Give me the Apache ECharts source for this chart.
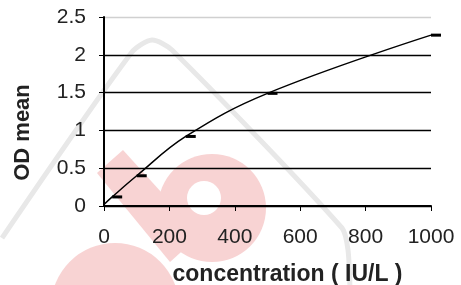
<!DOCTYPE html>
<html><head><meta charset="utf-8">
<script src="https://cdn.jsdelivr.net/npm/echarts@6/dist/echarts.min.js"></script>
<style>html,body{margin:0;padding:0;background:#fff}#c{width:461px;height:285px}</style>
</head><body><div id="c"></div>
<script>
var concentration = [0, 25, 100, 250, 500, 1000];
var odMean = [0.02, 0.12, 0.40, 0.92, 1.49, 2.26];
var xTicks = [0, 200, 400, 600, 800, 1000];
var yTicks = [0, 0.5, 1, 1.5, 2, 2.5];

var data = concentration.map(function (c, i) {
  var item = { value: [c, odMean[i]] };
  if (i === 0) item.symbol = 'none';
  return item;
});

var pink = '#f8d3d3';
var chart = echarts.init(document.getElementById('c'));
chart.setOption({
  animation: false,
  backgroundColor: '#fff',
  textStyle: { fontFamily: 'Liberation Sans, Arial, sans-serif' },
  graphic: [
    { type: 'circle', z: -10, shape: { cx: 212, cy: 208, r: 54 }, style: { fill: pink }, silent: true },
    { type: 'polygon', z: -10, shape: { points: [[97, 173], [123, 150], [200, 235], [170, 262]] }, style: { fill: pink }, silent: true },
    { type: 'circle', z: -9, shape: { cx: 204, cy: 198, r: 17 }, style: { fill: '#fff' }, silent: true },
    { type: 'circle', z: -10, shape: { cx: 115, cy: 307, r: 64 }, style: { fill: pink }, silent: true },
    { type: 'polyline', z: -8, shape: { points: [[2, 238], [132, 52], [152, 40], [172, 50], [342, 228], [348, 250], [350, 290]], smooth: 0.25 }, style: { stroke: '#e8e8e8', lineWidth: 5, fill: null }, silent: true }
  ],
  grid: { left: 104, right: 30, top: 17, bottom: 79, containLabel: false, outerBoundsMode: 'none' },
  xAxis: {
    type: 'value', min: 0, max: 1000, interval: 200,
    name: 'concentration ( IU/L )', nameLocation: 'middle', nameGap: 57,
    nameTextStyle: { fontSize: 23, fontWeight: 'bold', color: '#222', padding: [0, 0, 0, 40] },
    axisLine: { show: true, lineStyle: { color: '#000', width: 2 } },
    axisTick: { show: true, length: 5, lineStyle: { color: '#000', width: 1 } },
    axisLabel: { fontSize: 21, color: '#222', margin: 21, formatter: function (v) { return xTicks.indexOf(v) >= 0 ? String(v) : ''; } },
    splitLine: { show: false }
  },
  yAxis: {
    type: 'value', min: 0, max: 2.5, interval: 0.5,
    name: 'OD mean', nameLocation: 'middle', nameGap: 70,
    nameTextStyle: { fontSize: 22, fontWeight: 'bold', color: '#222', padding: [0, 42, 0, 0] },
    axisLine: { show: true, lineStyle: { color: '#000', width: 2 } },
    axisTick: { show: true, length: 5, lineStyle: { color: '#000', width: 1 } },
    axisLabel: { fontSize: 21, color: '#222', margin: 18, formatter: function (v) { return yTicks.indexOf(v) >= 0 ? String(v) : ''; } },
    splitLine: { show: true, lineStyle: { color: ['#000', '#000', '#000', '#000', '#000', '#d0d0d0'], width: 1.3 } }
  },
  series: [{
    type: 'line', data: data, smooth: 0.4,
    lineStyle: { color: '#000', width: 1.5 },
    symbol: 'rect', symbolSize: [10, 3], symbolOffset: [5, 0],
    itemStyle: { color: '#000' }, showSymbol: true
  }]
});
</script></body></html>
